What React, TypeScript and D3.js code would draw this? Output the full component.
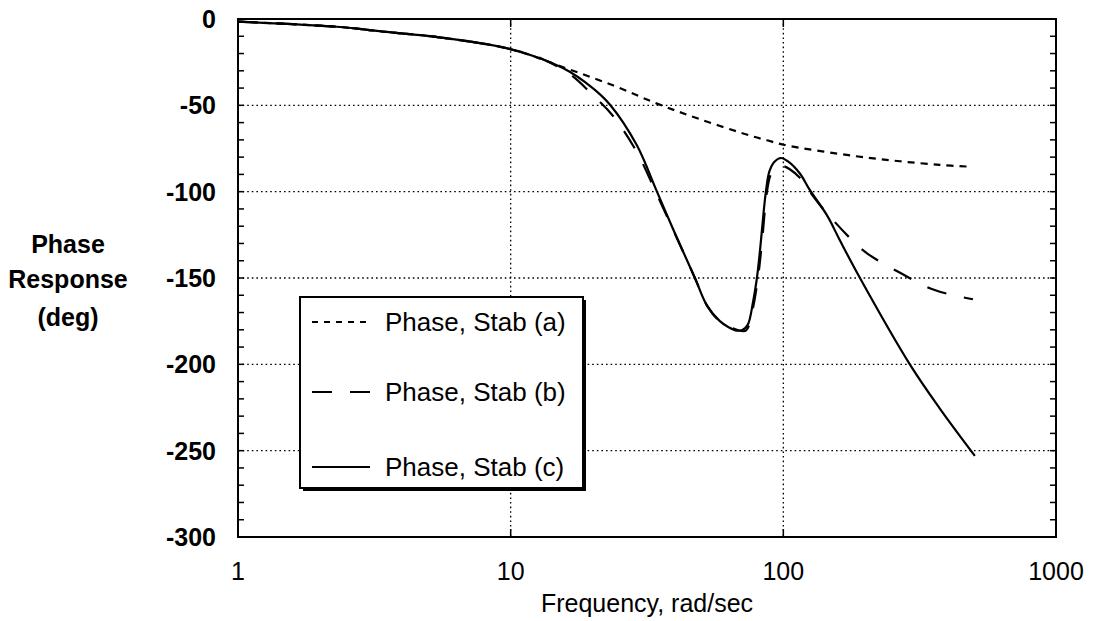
import React from "react";
import * as d3 from "d3";

const W = 1097;
const H = 621;

// x tick labels and y tick labels
const xTicks = [1, 10, 100, 1000];
const yTicks = [0, -50, -100, -150, -200, -250, -300];

// Series (a): Phase, Stab (a)
const freqA = [1, 2.3, 3.5, 5.4, 10, 15.6, 23.7, 34.4, 49.4, 75.4, 87, 100, 185, 268, 375, 480];
const phaseA = [-1.5, -4.5, -7.5, -10.5, -17.5, -28, -38.4, -49, -58, -67.5, -70.2, -72.8, -79.5, -82.4, -84.5, -85.5];

// Series (b): Phase, Stab (b)
const freqB = [1, 2.3, 3.5, 5.4, 10, 13, 16.5, 20, 23.7, 29, 33.8, 39.4, 47.4, 52.5, 58.5, 67.6, 72.9, 76.7, 80.7, 83.4, 87.1, 90, 94.7, 99.6, 105.6, 115, 125, 140, 183, 204, 268, 359, 496];
const phaseB = [-1.5, -4.5, -7.5, -10.5, -17.5, -23, -32, -44, -56, -77, -99, -122, -150, -166, -175, -180, -180.5, -170, -150, -130, -100, -90, -86, -85.2, -87, -92, -100, -110, -129.7, -136, -147, -157, -162.3];

// Series (c): Phase, Stab (c)
const freqC = [1, 2.3, 3.5, 5.4, 10, 15.6, 20, 23.1, 29, 34.4, 39.4, 47.4, 52.5, 58.5, 63, 67.6, 71, 74.1, 77.4, 80, 82, 86.3, 89, 93, 98, 104, 115, 125, 145, 161, 191, 291, 375, 504];
const phaseC = [-1.5, -4.5, -7.5, -10.5, -17.5, -28.5, -40, -49.5, -73, -100, -121.6, -150, -166, -175, -178.5, -180.5, -180, -177, -164, -150, -135, -100, -88, -82.5, -80.5, -82.5, -89.5, -99, -114, -128, -150, -200, -225.6, -253];

const legendLabels = ["Phase, Stab (a)", "Phase, Stab (b)", "Phase, Stab (c)"];
const legendDashes = ["6 6", "20 18", ""];
const seriesDashes = ["7 6", "20 18", ""];

const FONT = "'Liberation Sans', Arial, Helvetica, sans-serif";

export default function App() {
  const x = d3.scaleLog().domain([1, 1000]).range([238, 1056]);
  const y = d3.scaleLinear().domain([0, -300]).range([19, 537]);

  const line = d3
    .line<[number, number]>()
    .x((d) => x(d[0]))
    .y((d) => y(d[1]))
    .curve(d3.curveCatmullRom.alpha(0.5));

  const series = [
    { f: freqA, p: phaseA },
    { f: freqB, p: phaseB },
    { f: freqC, p: phaseC },
  ];

  const [x0, x1] = x.range();
  const [y0, y1] = y.range();

  const minorY = d3.range(0, -301, -10);
  const gridY = yTicks.filter((t) => t !== 0 && t !== -300);
  const gridX = xTicks.filter((t) => t !== 1 && t !== 1000);

  // legend box
  const lx = 300, ly = 297, lw = 283, lh = 191;
  const legendRows = [322, 392, 467];

  return (
    <svg
      width={W}
      height={H}
      style={{ position: "absolute", left: 0, top: 0, background: "#fff" }}
      fontFamily={FONT}
    >
      <rect x={0} y={0} width={W} height={H} fill="#fff" />
      {/* grid */}
      {gridY.map((t) => (
        <line key={"gy" + t} x1={x0} x2={x1} y1={y(t)} y2={y(t)} stroke="#000" strokeWidth={1.3} strokeDasharray="1.6 3" />
      ))}
      {gridX.map((t) => (
        <line key={"gx" + t} x1={x(t)} x2={x(t)} y1={y0} y2={y1} stroke="#000" strokeWidth={1.3} strokeDasharray="1.6 3" />
      ))}
      {/* minor ticks on left and right */}
      {minorY.map((t) => (
        <g key={"mt" + t}>
          <line x1={x0} x2={x0 + 6} y1={y(t)} y2={y(t)} stroke="#000" strokeWidth={1.5} />
          <line x1={x1 - 6} x2={x1} y1={y(t)} y2={y(t)} stroke="#000" strokeWidth={1.5} />
        </g>
      ))}
      {gridX.map((t) => (
        <g key={"xt" + t}>
          <line x1={x(t)} x2={x(t)} y1={y1} y2={y1 - 8} stroke="#000" strokeWidth={1.5} />
          <line x1={x(t)} x2={x(t)} y1={y0} y2={y0 + 8} stroke="#000" strokeWidth={1.5} />
        </g>
      ))}
      {/* curves */}
      {series.map((s, i) => (
        <path
          key={"s" + i}
          d={line(s.f.map((f, j) => [f, s.p[j]] as [number, number])) || ""}
          fill="none"
          stroke="#000"
          strokeWidth={2.2}
          strokeDasharray={seriesDashes[i] || undefined}
        />
      ))}
      {/* frame */}
      <rect x={x0} y={y0} width={x1 - x0} height={y1 - y0} fill="none" stroke="#000" strokeWidth={2} />
      {/* y tick labels */}
      {yTicks.map((t) => (
        <text key={"yl" + t} x={216} y={y(t)} dy="0.36em" textAnchor="end" fontSize={25} fontWeight="bold">
          {t}
        </text>
      ))}
      {/* x tick labels */}
      {xTicks.map((t) => (
        <text key={"xl" + t} x={x(t)} y={580} textAnchor="middle" fontSize={25}>
          {t}
        </text>
      ))}
      <text x={(x0 + x1) / 2} y={612} textAnchor="middle" fontSize={25}>
        Frequency, rad/sec
      </text>
      <g fontSize={25} fontWeight="bold" textAnchor="middle">
        <text x={68} y={253}>Phase</text>
        <text x={68} y={288}>Response</text>
        <text x={68} y={326}>(deg)</text>
      </g>
      {/* legend */}
      <rect x={lx + 3} y={ly + 3} width={lw} height={lh} fill="#000" />
      <rect x={lx} y={ly} width={lw} height={lh} fill="#fff" stroke="#000" strokeWidth={2} />
      {legendLabels.map((lab, i) => (
        <g key={"lg" + i}>
          <line
            x1={312}
            x2={370}
            y1={legendRows[i]}
            y2={legendRows[i]}
            stroke="#000"
            strokeWidth={2}
            strokeDasharray={legendDashes[i] || undefined}
          />
          <text x={385} y={legendRows[i]} dy="0.36em" fontSize={26}>
            {lab}
          </text>
        </g>
      ))}
    </svg>
  );
}
